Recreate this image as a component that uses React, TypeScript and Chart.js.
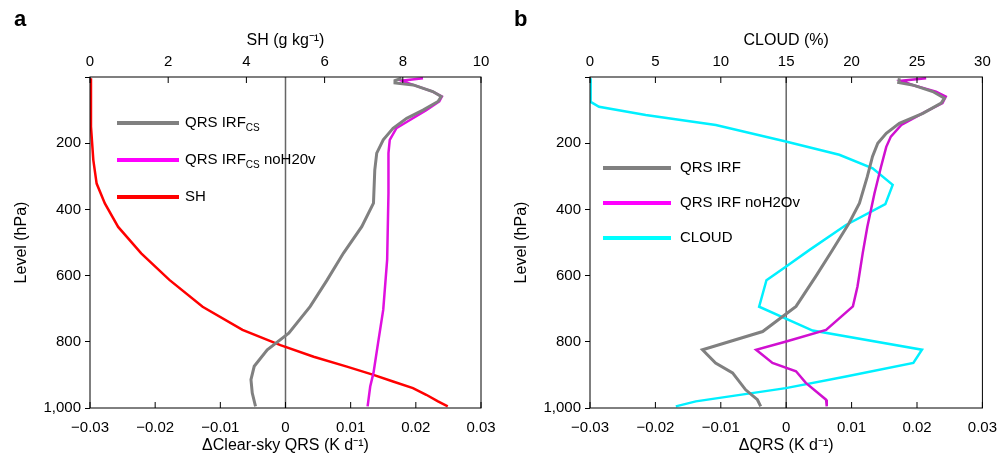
import React, { useEffect, useRef } from "react";
import { Chart, registerables } from "chart.js";
Chart.register(...registerables);

// Panel a
const aGrayP = [4, 11, 18, 24, 44, 59, 74, 100, 125, 155, 190, 230, 281, 381, 452, 532, 613, 693, 774, 824, 874, 914, 955, 995];
const aGrayV = [0.0178, 0.0168, 0.0168, 0.0196, 0.0226, 0.0239, 0.0234, 0.0211, 0.0186, 0.0165, 0.015, 0.014, 0.0137, 0.0135, 0.0117, 0.0089, 0.0064, 0.0038, 0.0005, -0.0028, -0.0048, -0.0053, -0.0051, -0.0046];
const aMagP = [4, 11, 24, 44, 59, 74, 100, 130, 155, 190, 230, 351, 552, 703, 804, 894, 935, 995];
const aMagV = [0.0211, 0.0178, 0.0196, 0.0226, 0.024, 0.0236, 0.0216, 0.0191, 0.017, 0.016, 0.0158, 0.0158, 0.0156, 0.015, 0.0142, 0.0135, 0.013, 0.0126];
const aShP = [4, 150, 251, 322, 382, 453, 533, 613, 694, 764, 810, 845, 875, 900, 920, 940, 960, 980, 995];
const aShV = [0, 0.025, 0.085, 0.17, 0.38, 0.72, 1.31, 2.03, 2.88, 3.9, 4.87, 5.72, 6.57, 7.25, 7.75, 8.26, 8.6, 8.9, 9.15];

// Panel b
const bGrayP = [4, 17, 24, 44, 64, 79, 110, 140, 170, 200, 240, 301, 381, 442, 522, 603, 693, 769, 824, 864, 894, 945, 975, 995];
const bGrayV = [0.0173, 0.0172, 0.0193, 0.0224, 0.0242, 0.0237, 0.0209, 0.0173, 0.0153, 0.014, 0.0132, 0.0124, 0.0112, 0.0096, 0.0071, 0.0045, 0.0015, -0.0036, -0.0128, -0.0108, -0.0082, -0.0062, -0.0044, -0.0039];
const bMagP = [4, 11, 24, 44, 59, 79, 104, 145, 180, 211, 271, 351, 453, 532, 633, 693, 764, 799, 824, 864, 889, 924, 975, 995];
const bMagV = [0.0214, 0.0176, 0.0193, 0.0229, 0.0244, 0.0239, 0.0214, 0.0176, 0.016, 0.0153, 0.0145, 0.0135, 0.0124, 0.0117, 0.0109, 0.0102, 0.0061, 0, -0.0046, -0.0021, 0.0015, 0.003, 0.0061, 0.0062];
const bCloudP = [4, 75, 90, 115, 145, 195, 235, 276, 326, 384, 447, 523, 573, 614, 694, 766, 824, 864, 905, 940, 980, 995];
const bCloudV = [0, 0.05, 0.69, 4.26, 9.62, 14.97, 19.06, 21.61, 23.14, 22.58, 19.57, 16.76, 14.97, 13.49, 12.93, 17.02, 25.38, 24.72, 19.57, 14.97, 8.09, 6.56];

const yTicks = [0, 200, 400, 600, 800, 1000];
const FONT = "'Liberation Sans', Arial, sans-serif";

const zip = (v: number[], p: number[]) => v.map((x, i) => ({ x, y: p[i] }));
const fmtBottom = (v: number) => (v === 0 ? "0" : (v < 0 ? "\u2212" : "") + Math.abs(v).toFixed(2));

const framePlugin = {
  id: "frame",
  afterDraw(chart: any) {
    const { ctx, chartArea: a, scales } = chart;
    ctx.save();
    ctx.strokeStyle = "#000";
    ctx.lineWidth = 1;
    ctx.strokeRect(a.left, a.top, a.right - a.left, a.bottom - a.top);
    ctx.beginPath();
    for (const t of scales.x.ticks) {
      const px = scales.x.getPixelForValue(t.value);
      ctx.moveTo(px, a.bottom);
      ctx.lineTo(px, a.bottom - 6);
    }
    for (const t of scales.x2.ticks) {
      const px = scales.x2.getPixelForValue(t.value);
      ctx.moveTo(px, a.top);
      ctx.lineTo(px, a.top + 6);
    }
    ctx.stroke();
    ctx.restore();
  },
  beforeDatasetsDraw(chart: any) {
    const { ctx, chartArea: a, scales } = chart;
    const px = scales.x.getPixelForValue(0);
    ctx.save();
    ctx.strokeStyle = "#666";
    ctx.lineWidth = 1.5;
    ctx.beginPath();
    ctx.moveTo(px, a.top);
    ctx.lineTo(px, a.bottom);
    ctx.stroke();
    ctx.restore();
  },
};

type DS = { data: { x: number; y: number }[]; color: string; axis: string; w: number };

function Panel(props: { datasets: DS[]; topTitle: string; bottomTitle: string; topMax: number; topStep: number; leftPad: number; rightPad: number }) {
  const ref = useRef<HTMLCanvasElement>(null);
  useEffect(() => {
    const tickFont = { family: FONT, size: 15 };
    const titleFont = { family: FONT, size: 16 };
    const chart = new Chart(ref.current!, {
      type: "line",
      data: {
        datasets: props.datasets.map((d) => ({
          data: d.data,
          borderColor: d.color,
          borderWidth: d.w,
          pointRadius: 0,
          fill: false,
          tension: 0,
          xAxisID: d.axis,
          yAxisID: "y",
        })),
      },
      options: {
        animation: false,
        responsive: false,
        layout: { padding: { right: props.rightPad, top: 31, bottom: 0, left: props.leftPad } },
        plugins: { legend: { display: false }, tooltip: { enabled: false } },
        scales: {
          x: {
            type: "linear",
            position: "bottom",
            min: -0.03,
            max: 0.03,
            ticks: { stepSize: 0.01, color: "#000", font: tickFont, padding: 3, callback: (v: any) => fmtBottom(Number(v)), maxRotation: 0 },
            grid: { display: false },
            border: { display: false },
            title: { display: true, text: props.bottomTitle, color: "#000", font: titleFont, padding: { top: 2, bottom: 4 } },
            afterFit: (s: any) => { s.height = 51; },
          },
          x2: {
            type: "linear",
            position: "top",
            min: 0,
            max: props.topMax,
            ticks: { stepSize: props.topStep, color: "#000", font: tickFont, padding: 6, maxRotation: 0 },
            grid: { display: false, tickLength: 0 },
            border: { display: false },
            title: { display: true, text: props.topTitle, color: "#000", font: titleFont, padding: { top: 0, bottom: 2 } },
            afterFit: (s: any) => { s.height = 46; },
          },
          y: {
            type: "linear",
            reverse: true,
            min: 0,
            max: 1000,
            afterBuildTicks: (s: any) => { s.ticks = yTicks.map((v) => ({ value: v })); },
            ticks: { color: "#000", font: tickFont, padding: 4, callback: (v: any) => (Number(v) === 0 ? "" : Number(v).toLocaleString("en-US")) },
            grid: { drawOnChartArea: false, tickLength: 5, color: "#000" },
            border: { display: false },
            title: { display: true, text: "Level (hPa)", color: "#000", font: titleFont, padding: { top: 0, bottom: 4 } },
            afterFit: (s: any) => { s.width = 90 - props.leftPad; },
          },
        },
      } as any,
      plugins: [framePlugin],
    });
    return () => chart.destroy();
  }, []);
  return <canvas ref={ref} width={500} height={459} style={{ display: "block" }} />;
}

const legLine = (color: string) => ({ position: "absolute" as const, width: 62, height: 4, background: color });
const legText = { position: "absolute" as const, fontFamily: FONT, fontSize: 15, color: "#000", whiteSpace: "nowrap" as const, lineHeight: "18px" };

export default function App() {
  useEffect(() => { document.body.style.margin = "0"; }, []);
  return (
    <div style={{ position: "relative", width: 1000, height: 459, display: "flex", background: "#fff" }}>
      <Panel
        datasets={[
          { data: zip(aGrayV, aGrayP), color: "#808080", axis: "x", w: 3 },
          { data: zip(aMagV, aMagP), color: "#e010e0", axis: "x", w: 2.5 },
          { data: zip(aShV, aShP), color: "#ff0000", axis: "x2", w: 2.5 },
        ]}
        topTitle="SH (g kg⁻¹)"
        bottomTitle="ΔClear-sky QRS (K d⁻¹)"
        topMax={10}
        topStep={2}
        leftPad={12}
        rightPad={19}
      />
      <Panel
        datasets={[
          { data: zip(bGrayV, bGrayP), color: "#808080", axis: "x", w: 3 },
          { data: zip(bMagV, bMagP), color: "#d010d0", axis: "x", w: 2.5 },
          { data: zip(bCloudV, bCloudP), color: "#00f0ff", axis: "x2", w: 2.5 },
        ]}
        topTitle="CLOUD (%)"
        bottomTitle="ΔQRS (K d⁻¹)"
        topMax={30}
        topStep={5}
        leftPad={12}
        rightPad={17}
      />
      <div style={{ position: "absolute", left: 14, top: 6, fontFamily: FONT, fontWeight: "bold", fontSize: 22 }}>a</div>
      <div style={{ position: "absolute", left: 514, top: 6, fontFamily: FONT, fontWeight: "bold", fontSize: 22 }}>b</div>

      <div style={{ ...legLine("#808080"), left: 117, top: 121 }} />
      <div style={{ ...legText, left: 185, top: 113 }}>QRS IRF<sub style={{ fontSize: 10 }}>CS</sub></div>
      <div style={{ ...legLine("#ff00ff"), left: 117, top: 158 }} />
      <div style={{ ...legText, left: 185, top: 150 }}>QRS IRF<sub style={{ fontSize: 10 }}>CS</sub> noH20v</div>
      <div style={{ ...legLine("#ff0000"), left: 117, top: 195 }} />
      <div style={{ ...legText, left: 185, top: 187 }}>SH</div>

      <div style={{ ...legLine("#808080"), left: 603, width: 68, top: 166 }} />
      <div style={{ ...legText, left: 680, top: 158 }}>QRS IRF</div>
      <div style={{ ...legLine("#ff00ff"), left: 603, width: 68, top: 201 }} />
      <div style={{ ...legText, left: 680, top: 193 }}>QRS IRF noH2Ov</div>
      <div style={{ ...legLine("#00ffff"), left: 603, width: 68, top: 236 }} />
      <div style={{ ...legText, left: 680, top: 228 }}>CLOUD</div>
    </div>
  );
}
